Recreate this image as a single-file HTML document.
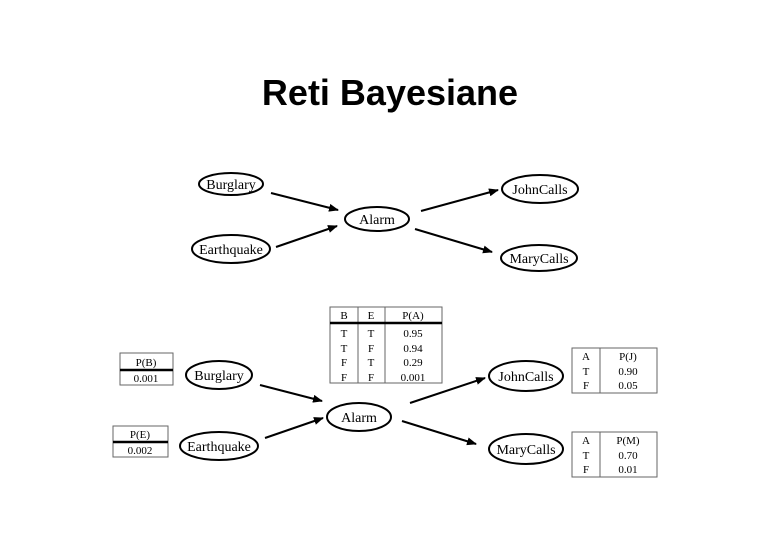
<!DOCTYPE html>
<html><head><style>
body{margin:0;background:#fff;}
svg text{font-family:"Liberation Serif",serif;}
</style></head><body>
<svg width="780" height="540" viewBox="0 0 780 540" xmlns="http://www.w3.org/2000/svg">
<defs><marker id="a" markerWidth="10" markerHeight="8" refX="9" refY="4" orient="auto" markerUnits="userSpaceOnUse"><path d="M0,0 L10,4 L0,8 Z" fill="#000"/></marker></defs>
<rect width="780" height="540" fill="#fff"/>
<text x="390" y="105" text-anchor="middle" style="font-family:'Liberation Sans',sans-serif;font-weight:bold;font-size:36px">Reti Bayesiane</text>
<g fill="none" stroke="#000" stroke-width="2">
<ellipse cx="231" cy="184" rx="32" ry="11"/>
<ellipse cx="540" cy="189" rx="38" ry="14"/>
<ellipse cx="377" cy="219" rx="32" ry="12"/>
<ellipse cx="231" cy="249" rx="39" ry="14"/>
<ellipse cx="539" cy="258" rx="38" ry="13"/>
<line x1="271" y1="193" x2="338" y2="210" marker-end="url(#a)"/>
<line x1="276" y1="247" x2="337" y2="226" marker-end="url(#a)"/>
<line x1="421" y1="211" x2="498" y2="190" marker-end="url(#a)"/>
<line x1="415" y1="229" x2="492" y2="252" marker-end="url(#a)"/>
<ellipse cx="219" cy="375" rx="33" ry="14"/>
<ellipse cx="219" cy="446" rx="39" ry="14"/>
<ellipse cx="359" cy="417" rx="32" ry="14"/>
<ellipse cx="526" cy="376" rx="37" ry="15"/>
<ellipse cx="526" cy="449" rx="37" ry="15"/>
<line x1="260" y1="385" x2="322" y2="401" marker-end="url(#a)"/>
<line x1="265" y1="438" x2="323" y2="418" marker-end="url(#a)"/>
<line x1="410" y1="403" x2="485" y2="378" marker-end="url(#a)"/>
<line x1="402" y1="421" x2="476" y2="444" marker-end="url(#a)"/>
</g>
<g font-size="14" text-anchor="middle">
<text x="231" y="189">Burglary</text>
<text x="540" y="194">JohnCalls</text>
<text x="377" y="224">Alarm</text>
<text x="231" y="254">Earthquake</text>
<text x="539" y="263">MaryCalls</text>
<text x="219" y="380">Burglary</text>
<text x="219" y="451">Earthquake</text>
<text x="359" y="422">Alarm</text>
<text x="526" y="381">JohnCalls</text>
<text x="526" y="454">MaryCalls</text>
</g>
<g stroke="#666" stroke-width="1" fill="none">
<rect x="120" y="353" width="53" height="32"/>
<rect x="113" y="426" width="55" height="31"/>
<rect x="330" y="307" width="112" height="76"/>
<line x1="358" y1="307" x2="358" y2="383"/><line x1="385" y1="307" x2="385" y2="383"/>
<rect x="572" y="348" width="85" height="45"/><line x1="600" y1="348" x2="600" y2="393"/>
<rect x="572" y="432" width="85" height="45"/><line x1="600" y1="432" x2="600" y2="477"/>
</g>
<g stroke="#000" stroke-width="2.5">
<line x1="120" y1="370" x2="173" y2="370"/>
<line x1="113" y1="442" x2="168" y2="442"/>
<line x1="330" y1="323" x2="442" y2="323"/>
</g>
<g font-size="11" text-anchor="middle">
<text x="146" y="366">P(B)</text><text x="146" y="382">0.001</text>
<text x="140" y="438">P(E)</text><text x="140" y="454">0.002</text>
<text x="344" y="319">B</text><text x="371" y="319">E</text><text x="413" y="319">P(A)</text>
<text x="344" y="337">T</text><text x="371" y="337">T</text><text x="413" y="337">0.95</text>
<text x="344" y="352">T</text><text x="371" y="352">F</text><text x="413" y="352">0.94</text>
<text x="344" y="366">F</text><text x="371" y="366">T</text><text x="413" y="366">0.29</text>
<text x="344" y="381">F</text><text x="371" y="381">F</text><text x="413" y="381">0.001</text>
<text x="586" y="360">A</text><text x="628" y="360">P(J)</text>
<text x="586" y="375">T</text><text x="628" y="375">0.90</text>
<text x="586" y="389">F</text><text x="628" y="389">0.05</text>
<text x="586" y="444">A</text><text x="628" y="444">P(M)</text>
<text x="586" y="459">T</text><text x="628" y="459">0.70</text>
<text x="586" y="473">F</text><text x="628" y="473">0.01</text>
</g>
</svg>
</body></html>
